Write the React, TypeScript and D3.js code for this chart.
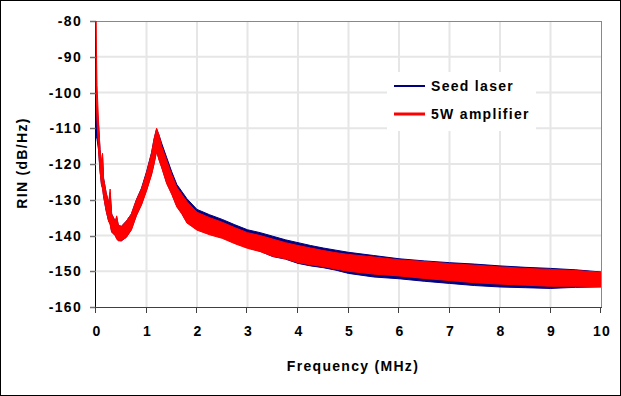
import React from "react";
import * as d3 from "d3";

// envelope of the noisy traces (MHz, dB/Hz)
const freqs = [0, 0.02, 0.05, 0.08, 0.11, 0.13, 0.15, 0.2, 0.25, 0.28, 0.31, 0.38, 0.41, 0.44, 0.5, 0.6, 0.7, 0.8, 0.9, 1.0, 1.1, 1.15, 1.2, 1.25, 1.3, 1.4, 1.5, 1.6, 1.7, 1.8, 1.9, 2.0, 2.25, 2.5, 2.75, 3.0, 3.25, 3.5, 3.75, 4.0, 4.25, 4.5, 4.75, 5.0, 5.5, 6.0, 6.5, 7.0, 7.5, 8.0, 8.5, 9.0, 9.5, 10];
const ampUpper = [-80, -98, -108, -116, -120, -117, -124, -128, -131, -127, -134, -136, -134.5, -137, -137.5, -136, -134, -130, -127, -122.5, -117, -113, -110, -112, -115, -119, -123, -126.5, -128.5, -130.5, -132, -133.5, -135, -136.3, -137.8, -139.2, -140, -141, -142, -142.8, -143.5, -144.2, -144.8, -145.3, -146, -146.8, -147.3, -147.9, -148.3, -148.8, -149.2, -149.5, -149.8, -150.3];
const ampLower = [-100, -108, -116, -122, -126, -127, -129, -133, -136, -137, -139, -140, -141, -141.5, -141.5, -140.5, -138.5, -134.5, -131.5, -127.5, -123, -120, -116.5, -119, -121, -125.5, -128.5, -132, -134, -136.5, -137.5, -138.5, -139.8, -140.8, -142.3, -143.6, -144.5, -145.8, -146.5, -147.6, -148.2, -148.7, -149.4, -150, -150.8, -151.3, -152, -152.6, -153.2, -153.6, -153.9, -154.2, -154.2, -154.3];
const seedUpper = [-104, -105, -109, -116, -120, -118, -124, -128, -131, -128, -134, -136, -135, -137, -137.5, -136, -134, -130, -126.8, -122.2, -116.8, -113, -110.2, -112, -114.2, -118.2, -122.2, -125.7, -127.7, -129.7, -131.2, -132.7, -134.2, -135.5, -137, -138.4, -139.2, -140.2, -141.2, -142, -142.8, -143.5, -144.1, -144.7, -145.6, -146.5, -147.1, -147.6, -148, -148.5, -148.9, -149.2, -149.6, -150.2];
const seedLower = [-112, -113, -116, -122, -126, -126.5, -129, -133, -136, -136.5, -139, -140, -140.8, -141.3, -141.5, -140.5, -138.3, -134.3, -131.3, -127.3, -122.8, -119.8, -116.3, -118.8, -120.8, -125.3, -128.3, -131.8, -133.8, -136.3, -137.3, -138.3, -139.6, -140.6, -142.1, -143.4, -144.4, -145.9, -146.6, -147.8, -148.5, -149, -149.7, -150.6, -151.6, -152.1, -152.8, -153.4, -154, -154.4, -154.6, -154.8, -154.5, -154.4];

const xTicks = [0, 1, 2, 3, 4, 5, 6, 7, 8, 9, 10];
const yTicks = [-80, -90, -100, -110, -120, -130, -140, -150, -160];

const series = [
  { name: "Seed laser", upper: seedUpper, lower: seedLower, color: "#000080", legendWidth: 2 },
  { name: "5W amplifier", upper: ampUpper, lower: ampLower, color: "#ff0000", legendWidth: 3 },
];

const W = 621;
const H = 396;
const left = 96, right = 601, top = 21, bottom = 307;
const font = "'Liberation Sans', Arial, sans-serif";

export default function App() {
  const x = d3.scaleLinear().domain([0, 10]).range([left, right]);
  const y = d3.scaleLinear().domain([-160, -80]).range([bottom, top]);

  const band = (s: typeof series[number]) =>
    d3
      .area<number>()
      .x((_, i) => x(freqs[i]))
      .y0((_, i) => y(s.lower[i]))
      .y1((_, i) => y(s.upper[i]))(freqs) || "";

  const txt = { fontFamily: font, fontSize: 14, fontWeight: 700, letterSpacing: 1.3, fill: "#000" };

  return (
    <svg width={W} height={H} style={{ position: "absolute", left: 0, top: 0, background: "#fff" }}>
      <rect x={0.5} y={0.5} width={W - 1} height={H - 1} fill="#fff" stroke="#000" />
      <defs>
        <clipPath id="plot">
          <rect x={left - 2} y={top} width={right - left + 2} height={bottom - top} />
        </clipPath>
      </defs>

      {/* grid */}
      {xTicks.slice(1, -1).map((t) => (
        <line key={t} x1={x(t)} x2={x(t)} y1={top} y2={bottom} stroke="#e6e6e6" strokeWidth={2} />
      ))}
      {yTicks.slice(1, -1).map((t) => (
        <line key={t} x1={left} x2={right} y1={y(t)} y2={y(t)} stroke="#e6e6e6" strokeWidth={2} />
      ))}
      <line x1={left} x2={right} y1={top + 0.5} y2={top + 0.5} stroke="#888" />
      <line x1={right + 0.5} x2={right + 0.5} y1={top} y2={bottom} stroke="#888" />

      {/* legend box */}
      <rect x={387} y={72} width={149} height={59} fill="#fff" />

      {/* axes */}
      <line x1={left - 0.5} x2={left - 0.5} y1={top} y2={bottom} stroke="#000" />
      <line x1={left} x2={right + 1} y1={bottom + 0.5} y2={bottom + 0.5} stroke="#404040" />
      {yTicks.map((t) => (
        <g key={t}>
          <line x1={left - 6} x2={left} y1={Math.round(y(t)) + 0.5} y2={Math.round(y(t)) + 0.5} stroke="#707070" strokeWidth={1.5} />
          <text x={82} y={y(t)} dy="0.36em" textAnchor="end" {...txt}>
            {t}
          </text>
        </g>
      ))}
      {xTicks.map((t) => (
        <g key={t}>
          <line x1={Math.round(x(t)) - 0.5} x2={Math.round(x(t)) - 0.5} y1={bottom} y2={bottom + 6} stroke="#404040" />
          <text x={x(t) + 1} y={336} textAnchor="middle" {...txt}>
            {t}
          </text>
        </g>
      ))}

      {/* traces */}
      <g clipPath="url(#plot)">
        {series.map((s) => (
          <path key={s.name} d={band(s)} fill={s.color} stroke={s.color} strokeWidth={1} />
        ))}
      </g>

      {/* legend */}
      {series.map((s, i) => (
        <g key={s.name}>
          <line x1={394} x2={425} y1={86 + i * 28} y2={86 + i * 28} stroke={s.color} strokeWidth={s.legendWidth} />
          <text x={431} y={86 + i * 28} dy="0.36em" {...txt}>
            {s.name}
          </text>
        </g>
      ))}

      <text x={353} y={371} textAnchor="middle" {...txt}>
        Frequency (MHz)
      </text>
      <text transform="translate(26.5,163) rotate(-90)" textAnchor="middle" {...txt}>
        RIN (dB/Hz)
      </text>
    </svg>
  );
}
